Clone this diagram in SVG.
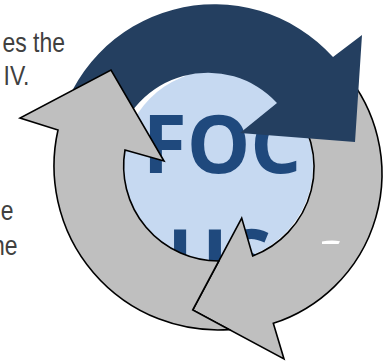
<svg xmlns="http://www.w3.org/2000/svg" width="390" height="364" viewBox="0 0 390 364">
<style>
.side{font-family:"Liberation Sans",Arial,sans-serif;font-size:28px;fill:#404040}
.focus{font-family:"Open Sans","Noto Sans",sans-serif;font-weight:bold;font-size:80px;fill:#1F497D}
.gray{fill:#BFBFBF;stroke:#000;stroke-width:1.6;stroke-linejoin:miter}
.dark{fill:#243F60}
</style>
<rect width="390" height="364" fill="#fff"/>
<g id="side-text" transform="scale(0.82,1)">
<text class="side" x="79.3" y="52" text-anchor="end">es the</text>
<text class="side" x="36" y="85" text-anchor="end">IV.</text>
<text class="side" x="16.5" y="220" text-anchor="end">e</text>
<text class="side" x="21.3" y="255" text-anchor="end">ne</text>
</g>
<g id="center">
<circle cx="217.5" cy="166" r="95.5" fill="#C6D9F1"/>
<text class="focus" x="222" y="173" text-anchor="middle">FOC</text>
<text class="focus" x="219.5" y="287" text-anchor="middle">US</text>
</g>
<g id="connectors">
<g id="arrow-right">
<path class="gray" d="M345.3,73.1 A157,157 0 0 1 273.3,323.3 L284,359 L192.7,310 L241.7,218 L252.7,256 A95,95 0 0 0 290.8,104.9 Z"/>
<path d="M322,244 L322,241.6 Q331,239.6 340,241.2 L338.5,244 Z" fill="#fff"/>
</g>
<g id="arrow-top">
<path class="dark" d="M58,130 A160,160 0 0 1 333,57 L362,35 L355,142 L240,133 L277,103 A94,94 0 0 0 116,146.7 Z"/>
</g>
<g id="arrow-left">
<path class="gray" d="M58,130 A164,164 0 0 0 229.1,329.6 L192.7,310 L218.8,261 A95,95 0 0 1 125,150 L164,161 L111,70 L20,118 Z"/>
</g>
</g>
</svg>
